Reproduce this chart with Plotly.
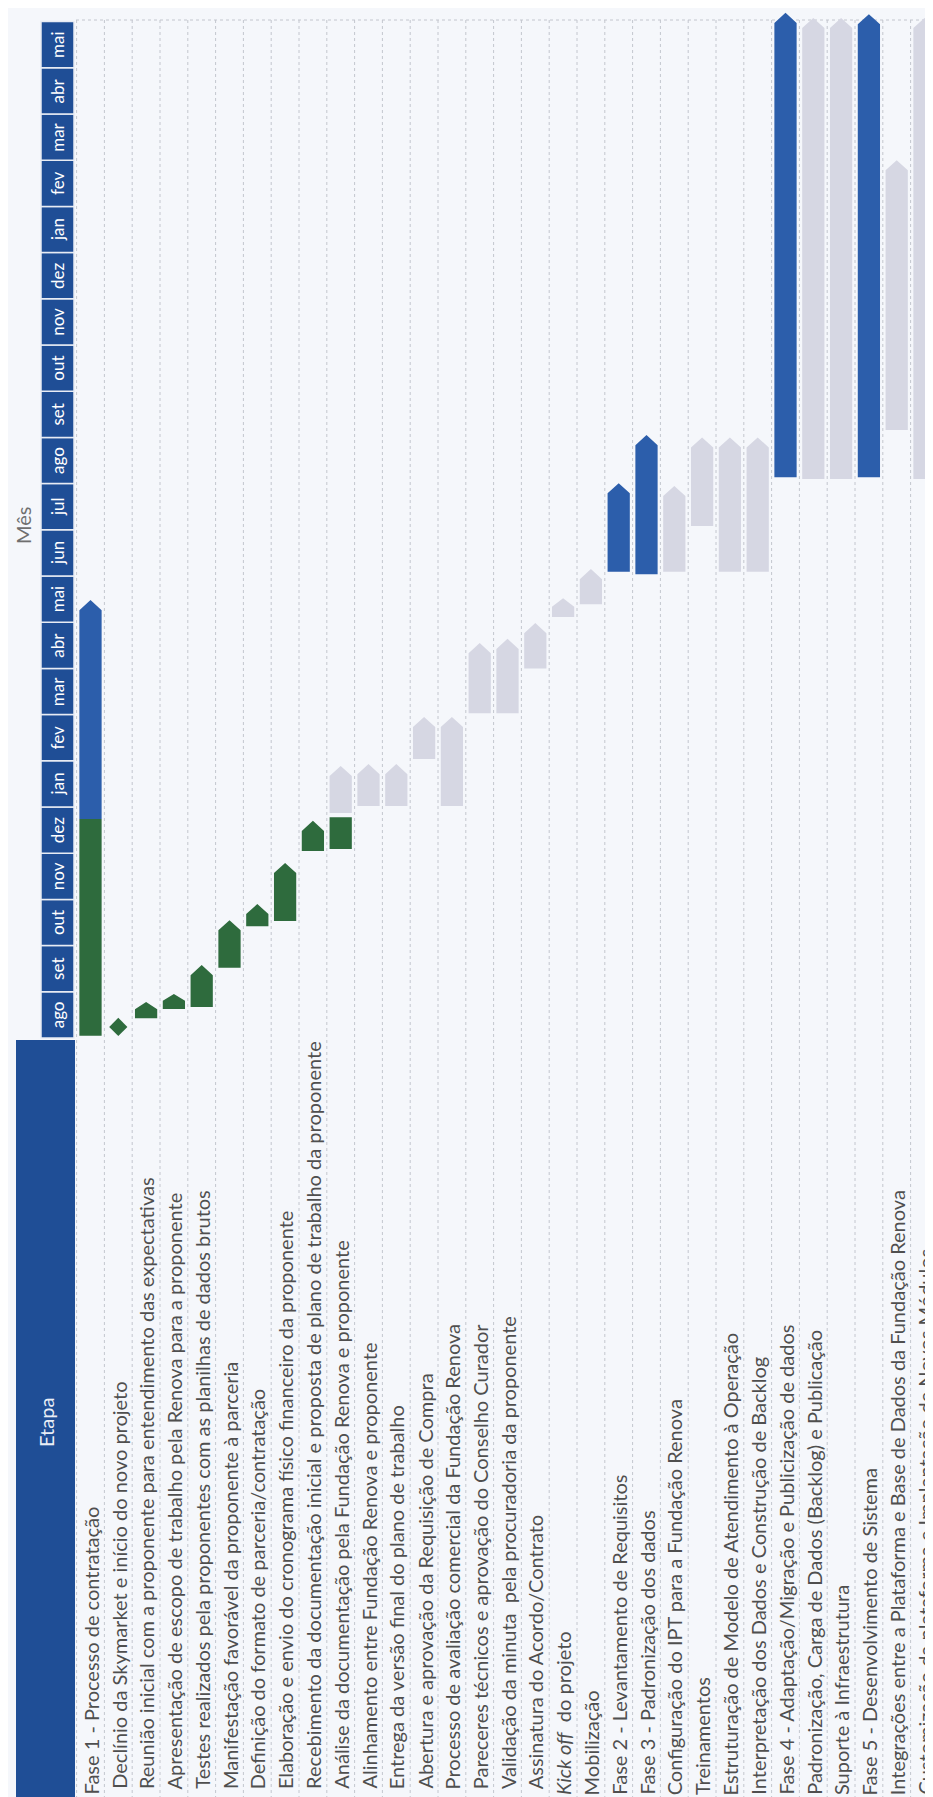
import plotly.graph_objects as go

W, H = 933, 1797
FONT = "Lato, 'Open Sans', sans-serif"

# ---------------- data ----------------
months = ["ago", "set", "out", "nov", "dez", "jan", "fev", "mar", "abr", "mai", "jun", "jul",
          "ago", "set", "out", "nov", "dez", "jan", "fev", "mar", "abr", "mai"]

tasks = [
    "Fase 1 - Processo de contratação",
    "Declínio da Skymarket e início do novo projeto",
    "Reunião inicial com a proponente para entendimento das expectativas",
    "Apresentação de escopo de trabalho pela Renova para a proponente",
    "Testes realizados pela proponentes com as planilhas de dados brutos",
    "Manifestação favorável da proponente à parceria",
    "Definição do formato de parceria/contratação",
    "Elaboração e envio do cronograma físico financeiro da proponente",
    "Recebimento da documentação inicial e proposta de plano de trabalho da proponente",
    "Análise da documentação pela Fundação Renova e proponente",
    "Alinhamento entre Fundação Renova e proponente",
    "Entrega da versão final do plano de trabalho",
    "Abertura e aprovação da Requisição de Compra",
    "Processo de avaliação comercial da Fundação Renova",
    "Pareceres técnicos e aprovação do Conselho Curador",
    "Validação da minuta  pela procuradoria da proponente",
    "Assinatura do Acordo/Contrato",
    "<i>Kick off</i>  do projeto",
    "Mobilização",
    "Fase 2 - Levantamento de Requisitos",
    "Fase 3 - Padronização dos dados",
    "Configuração do IPT para a Fundação Renova",
    "Treinamentos",
    "Estruturação de Modelo de Atendimento à Operação",
    "Interpretação dos Dados e Construção de Backlog",
    "Fase 4 - Adaptação/Migração e Publicização de dados",
    "Padronização, Carga de Dados (Backlog) e Publicação",
    "Suporte à Infraestrutura",
    "Fase 5 - Desenvolvimento de Sistema",
    "Integrações entre a Plataforma e Base de Dados da Fundação Renova",
    "Customização da plataforma e Implantação de Novos Módulos",
]
indented_rows = list(range(1, 17))

# completed steps (green arrows) — months counted from first "ago" = 0
done_row = [2, 3, 4, 5, 6, 7, 8]
done_start = [0.43, 0.63, 0.67, 1.52, 2.42, 2.53, 4.05]
done_end = [0.78, 0.95, 1.58, 2.55, 2.90, 3.79, 4.70]

# completed blocks (green, flat end)
block_row = [0, 9]
block_start = [0.05, 4.09]
block_end = [4.74, 4.78]

# milestone
milestone_row = [1]
milestone_at = [0.24]

# phases (blue arrows)
phase_row = [0, 19, 20, 25, 28]
phase_start = [4.74, 10.09, 10.04, 12.14, 12.14]
phase_end = [9.48, 12.01, 13.05, 22.19, 22.16]

# planned steps (grey arrows)
plan_row = [9, 10, 11, 12, 13, 14, 15, 16, 17, 18, 21, 22, 23, 24, 26, 27, 29, 30]
plan_start = [4.87, 5.02, 5.02, 6.04, 5.02, 7.03, 7.03, 8.00, 9.11, 9.39,
              10.09, 11.08, 10.09, 10.09, 12.10, 12.10, 13.16, 12.10]
plan_end = [5.89, 5.93, 5.93, 6.95, 6.95, 8.55, 8.64, 8.98, 9.52, 10.15,
            11.95, 13.00, 13.00, 13.00, 22.08, 22.08, 19.00, 22.08]

# ---------------- styling / geometry ----------------
GREEN = "#2e6b3d"
BLUE = "#2c5eab"
GREY = "#d6d7e3"
HDR = "#1f4e96"
BG = "#f5f7fb"
TXT = "#4f4f4f"
GRID = "#c3c6ce"

ROW0_PX, ROW_PX = 82.5, 27.8      # pixel centre of first row, row pitch
M0_PX, M_PX = 1030.0, 46.2        # pixel of month 0, pixels per month

XR = [(0 - ROW0_PX) / ROW_PX, (W - ROW0_PX) / ROW_PX]
YR = [(M0_PX - H) / M_PX, M0_PX / M_PX]


def px2x(px):
    return (px - ROW0_PX) / ROW_PX


def px2y(py):
    return (M0_PX - py) / M_PX


def arrow_path(rows, starts, ends, width=0.8, tip=0.22, pointed=True):
    xs, ys = [], []
    for r, s, e in zip(rows, starts, ends):
        h = min(tip, 0.45 * (e - s)) if pointed else 0.0
        xs += [r - width / 2, r + width / 2, r + width / 2, r, r - width / 2, r - width / 2, None]
        ys += [s, s, e - h, e, e - h, s, None]
    return xs, ys


fig = go.Figure()

# month header as bars
hx = px2x(49.5)
hw = 33 / ROW_PX
fig.add_trace(go.Bar(
    x=[hx] * len(months), y=[1] * len(months), base=list(range(len(months))),
    width=hw, marker=dict(color=HDR, line=dict(color="#e8ecf4", width=1.5)),
    text=months, textposition="inside", insidetextanchor="middle", textangle=-90,
    textfont=dict(color="white", size=17, family=FONT),
    hoverinfo="skip", showlegend=False))

for (rows, s, e, col, pointed) in [
    (plan_row, plan_start, plan_end, GREY, True),
    (block_row, block_start, block_end, GREEN, False),
    (done_row, done_start, done_end, GREEN, True),
    (phase_row, phase_start, phase_end, BLUE, True),
]:
    xs, ys = arrow_path(rows, s, e, pointed=pointed)
    fig.add_trace(go.Scatter(x=xs, y=ys, mode="lines", fill="toself",
                             fillcolor=col, line=dict(width=0, color=col),
                             hoverinfo="skip", showlegend=False))

fig.add_trace(go.Scatter(x=milestone_row, y=milestone_at, mode="markers",
                         marker=dict(symbol="diamond", size=14, color=GREEN),
                         hoverinfo="skip", showlegend=False))

shapes = []
# vertical dotted separators between rows
for i in range(len(tasks)):
    xb = i + 0.5
    shapes.append(dict(type="line", xref="x", yref="y", x0=xb, x1=xb,
                       y0=YR[0], y1=px2y(12), line=dict(color=GRID, width=1, dash="dot"), layer="below"))
shapes.append(dict(type="line", xref="x", yref="y", x0=-0.5, x1=-0.5,
                   y0=YR[0], y1=px2y(12), line=dict(color=GRID, width=1, dash="dot"), layer="below"))
# top dotted line
shapes.append(dict(type="line", xref="x", yref="y", x0=px2x(68), x1=XR[1],
                   y0=px2y(12), y1=px2y(12), line=dict(color=GRID, width=1, dash="dot"), layer="below"))
# Etapa header block
shapes.append(dict(type="rect", xref="x", yref="y", x0=px2x(8), x1=px2x(67),
                   y0=YR[0], y1=px2y(1032), fillcolor=HDR, line=dict(width=0), layer="below"))

annotations = []
annotations.append(dict(x=px2x(38), y=px2y(1415), xref="x", yref="y", text="Etapa",
                        textangle=-90, showarrow=False,
                        font=dict(color="#e9eef7", size=20, family=FONT)))
annotations.append(dict(x=px2x(15), y=px2y(518), xref="x", yref="y", text="Mês",
                        textangle=-90, showarrow=False,
                        font=dict(color="#6f6f6f", size=20, family=FONT)))
for i, t in enumerate(tasks):
    start_px = 1783 if i in indented_rows else 1789
    annotations.append(dict(x=i, y=px2y(start_px), xref="x", yref="y", text=t,
                            textangle=-90, showarrow=False, xanchor="center", yanchor="bottom",
                            font=dict(color=TXT, size=20, family=FONT)))

fig.update_layout(
    width=W, height=H, margin=dict(l=0, r=0, t=0, b=0),
    paper_bgcolor=BG, plot_bgcolor=BG, barmode="overlay",
    xaxis=dict(range=XR, visible=False, fixedrange=True),
    yaxis=dict(range=YR, visible=False, fixedrange=True),
    shapes=shapes, annotations=annotations, showlegend=False,
)

fig.write_html("out.html")
